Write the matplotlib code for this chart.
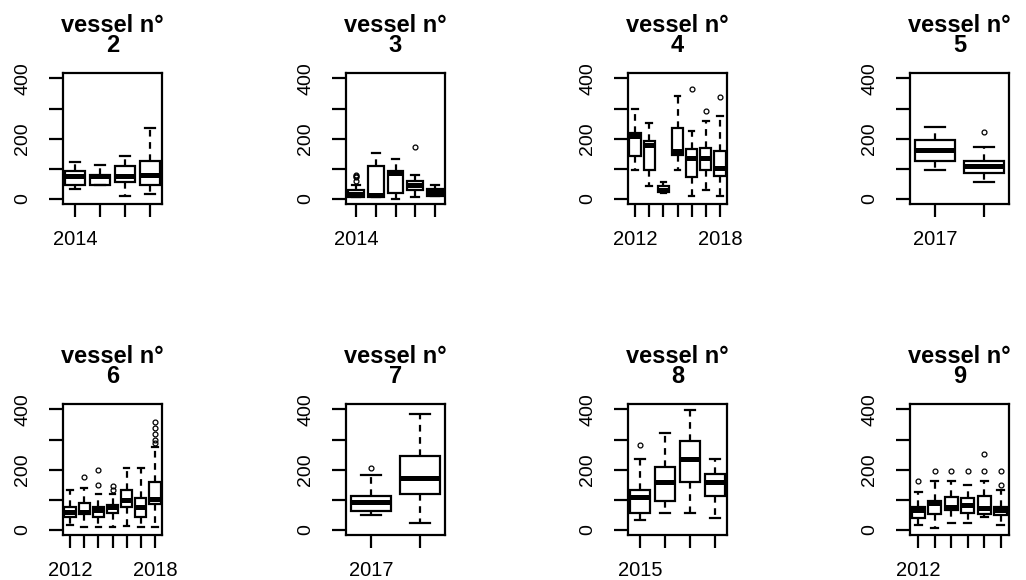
import matplotlib
matplotlib.use("Agg")
import matplotlib.pyplot as plt

plt.rcParams['font.family'] = ['Liberation Sans', 'DejaVu Sans']

# five-number summaries per year: (whisker low, q1, median, q3, whisker high)
v2_years = [2014, 2015, 2016, 2017]
v2_box = [(34, 45, 75, 92, 123), (45, 45, 76, 80, 114), (11, 56, 75, 110, 144), (17, 45, 78, 126, 235)]
v2_out = [[], [], [], []]
v2_labels = ["2014", "", "", ""]

v3_years = [2014, 2015, 2016, 2017, 2018]
v3_box = [(5, 7, 17, 31, 47), (7, 7, 12, 108, 152), (0, 20, 86, 92, 133), (7, 31, 45, 58, 80), (10, 11, 22, 34, 45)]
v3_out = [[58, 72, 77, 80], [], [], [172], []]
v3_labels = ["2014", "", "", "", ""]

v4_years = [2012, 2013, 2014, 2015, 2016, 2017, 2018]
v4_box = [(97, 141, 208, 219, 298), (42, 95, 180, 191, 252), (20, 22, 31, 42, 56), (97, 147, 158, 235, 343),
          (11, 73, 136, 167, 226), (31, 97, 136, 169, 257), (11, 75, 103, 160, 274)]
v4_out = [[], [], [], [], [365], [291], [338]]
v4_labels = ["2012", "", "", "", "", "", "2018"]

v5_years = [2017, 2018]
v5_box = [(97, 125, 161, 194, 239), (56, 86, 108, 126, 172)]
v5_out = [[], [222]]
v5_labels = ["2017", ""]

v6_years = [2012, 2013, 2014, 2015, 2016, 2017, 2018]
v6_box = [(17, 42, 61, 77, 134), (11, 52, 61, 88, 138), (11, 44, 66, 75, 118), (11, 55, 77, 83, 118),
          (13, 75, 99, 132, 204), (11, 42, 75, 105, 204), (11, 86, 101, 160, 275)]
v6_out = [[], [174], [149, 198], [134, 145], [], [], [289, 300, 319, 339, 358]]
v6_labels = ["2012", "", "", "", "", "", "2018"]

v7_years = [2017, 2018]
v7_box = [(50, 63, 91, 112, 182), (22, 119, 171, 245, 386)]
v7_out = [[206], []]
v7_labels = ["2017", ""]

v8_years = [2015, 2016, 2017, 2018]
v8_box = [(33, 55, 108, 134, 235), (57, 96, 160, 209, 322), (57, 158, 237, 294, 397), (39, 112, 160, 187, 237)]
v8_out = [[281], [], [], []]
v8_labels = ["2015", "", "", ""]

v9_years = [2012, 2013, 2014, 2015, 2016, 2017]
v9_box = [(17, 39, 66, 77, 127), (6, 52, 88, 96, 163), (22, 66, 77, 110, 163), (22, 55, 83, 105, 149),
          (42, 53, 72, 112, 163), (17, 50, 66, 77, 132)]
v9_out = [[163], [196], [196], [196], [196, 251], [149, 196]]
v9_labels = ["2012", "", "", "", "", ""]

panels = [
    (2, v2_years, v2_box, v2_out, v2_labels),
    (3, v3_years, v3_box, v3_out, v3_labels),
    (4, v4_years, v4_box, v4_out, v4_labels),
    (5, v5_years, v5_box, v5_out, v5_labels),
    (6, v6_years, v6_box, v6_out, v6_labels),
    (7, v7_years, v7_box, v7_out, v7_labels),
    (8, v8_years, v8_box, v8_out, v8_labels),
    (9, v9_years, v9_box, v9_out, v9_labels),
]

W, H = 1026, 580
fig = plt.figure(figsize=(W / 100, H / 100), dpi=100)

lefts = [63, 346, 628, 910]
tops = [73, 404]
aw, ah = 99, 131

for i, (vessel, years, box, out, labels) in enumerate(panels):
    row, col = divmod(i, 4)
    ax = fig.add_axes([lefts[col] / W, 1 - (tops[row] + ah) / H, aw / W, ah / H])

    stats = []
    for (lo, q1, med, q3, hi), fl in zip(box, out):
        stats.append(dict(whislo=lo, q1=q1, med=med, q3=q3, whishi=hi, fliers=fl))

    ax.bxp(stats, positions=range(1, len(years) + 1), widths=0.8, capwidths=0.4,
           patch_artist=True, manage_ticks=False,
           boxprops=dict(facecolor="white", edgecolor="black", linewidth=1.6),
           medianprops=dict(color="black", linewidth=3.6, solid_capstyle="butt"),
           whiskerprops=dict(color="black", linewidth=1.6, linestyle=(0, (3, 2.5))),
           capprops=dict(color="black", linewidth=1.6),
           flierprops=dict(marker="o", markersize=3.5, markerfacecolor="none",
                           markeredgecolor="black", markeredgewidth=0.9))

    ax.set_xlim(0.5, len(years) + 0.5)
    ax.set_ylim(-17, 418)
    ax.set_xticks(range(1, len(years) + 1))
    ax.set_xticklabels(labels, fontsize=14.5)
    ax.set_yticks([0, 100, 200, 300, 400])
    ax.set_yticklabels(["0", "", "200", "", "400"], fontsize=14, rotation=90, va="center")
    ax.tick_params(axis="y", length=10, width=1.6, pad=13)
    ax.tick_params(axis="x", length=9, width=1.6, pad=10)
    for s in ax.spines.values():
        s.set_linewidth(1.6)
    ax.set_title(f"vessel n°\n{vessel}", fontsize=17, fontweight="bold", pad=15, linespacing=0.85)

fig.savefig("out.png", dpi=100)
